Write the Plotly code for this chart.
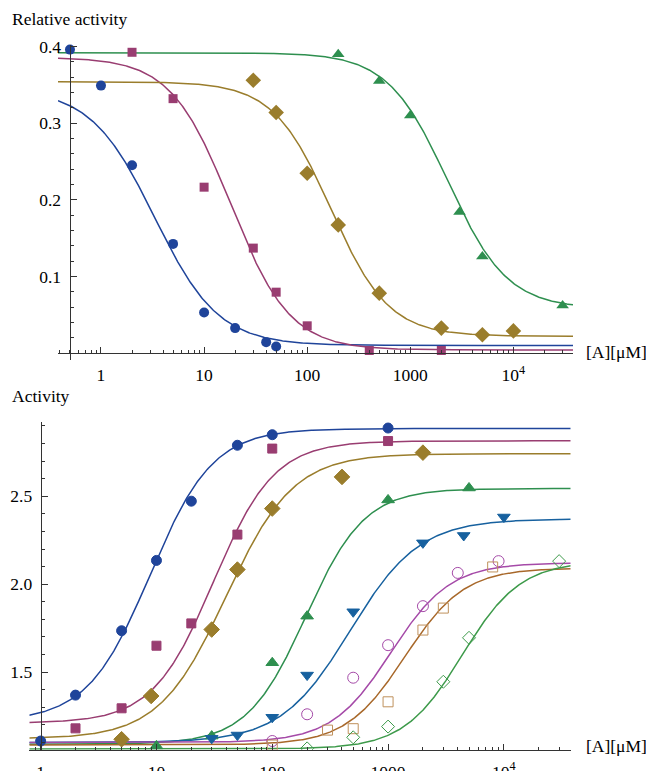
import numpy as np
import plotly.graph_objects as go

W, H = 646, 771

# ---------------- TOP PANEL: Relative activity vs [A] (uM) ----------------
top_blue_x = [0.5, 1, 2, 5, 10, 20, 40, 50]
top_blue_y = [0.396, 0.349, 0.245, 0.1425, 0.053, 0.0326, 0.0143, 0.0087]
top_magenta_x = [2, 5, 10, 30, 50, 100, 400, 2000]
top_magenta_y = [0.3925, 0.332, 0.2165, 0.137, 0.0795, 0.0356, 0.0034, 0.0034]
top_gold_x = [30, 50, 100, 200, 500, 2000, 5000, 10000]
top_gold_y = [0.356, 0.314, 0.2347, 0.1673, 0.0782, 0.0326, 0.0239, 0.029]
top_green_x = [200, 500, 1000, 3000, 5000, 30000]
top_green_y = [0.39, 0.355, 0.31, 0.184, 0.126, 0.062]

# fitted dose-response curve parameters (top, bottom, IC50, Hill)
top_fit_top = [0.345, 0.386, 0.354, 0.392]
top_fit_bottom = [0.010, 0.004, 0.022, 0.058]
top_fit_ic50 = [3.3, 18, 170, 2300]
top_fit_hill = [1.4, 1.5, 1.55, 1.5]

# ---------------- BOTTOM PANEL: Activity vs [A] (uM) ----------------
bot_blue_x = [1, 2, 5, 10, 20, 50, 100, 1000]
bot_blue_y = [1.108, 1.369, 1.735, 2.135, 2.472, 2.79, 2.85, 2.888]
bot_magenta_x = [2, 5, 10, 20, 50, 100, 1000]
bot_magenta_y = [1.18, 1.294, 1.65, 1.777, 2.282, 2.771, 2.814]
bot_gold_x = [5, 9, 30, 50, 100, 400, 2000]
bot_gold_y = [1.118, 1.364, 1.742, 2.083, 2.43, 2.61, 2.748]
bot_green_x = [10, 30, 100, 200, 1000, 5000]
bot_green_y = [1.08, 1.136, 1.553, 1.818, 2.479, 2.547]
bot_steel_x = [30, 50, 100, 200, 500, 2000, 4500, 10000]
bot_steel_y = [1.123, 1.142, 1.243, 1.483, 1.843, 2.235, 2.277, 2.382]
bot_purple_x = [100, 200, 500, 1000, 2000, 4000, 9000]
bot_purple_y = [1.108, 1.26, 1.468, 1.653, 1.875, 2.064, 2.131]
bot_brown_x = [100, 300, 500, 1000, 2000, 3000, 8000]
bot_brown_y = [1.085, 1.17, 1.178, 1.331, 1.739, 1.864, 2.098]
bot_lgreen_x = [200, 500, 1000, 3000, 5000, 30000]
bot_lgreen_y = [1.066, 1.129, 1.19, 1.445, 1.695, 2.131]

bot_fit_top = [2.885, 2.815, 2.742, 2.544, 2.371, 2.121, 2.092, 2.13]
bot_fit_bottom = [1.22, 1.21, 1.12, 1.09, 1.10, 1.10, 1.085, 1.062]
bot_fit_ec50 = [8.8, 31, 40, 195, 470, 1056, 1400, 4360]
bot_fit_hill = [1.6, 1.65, 1.5, 1.71, 1.45, 1.7, 1.7, 1.72]

major_ticks = [1, 10, 100, 1000, 10000]
major_text = ["1", "10", "100", "1000", "10<sup>4</sup>"]

# ------------------------------------------------------------------
C_BLUE = "#1f449a"
C_MAG = "#993d71"
C_GOLD = "#9a7d2c"
C_GREEN = "#2e8f4f"
C_STEEL = "#17619f"
C_PURPLE = "#a54aa8"
C_BROWN_L = "#a8682a"
C_BROWN_M = "#bf915c"
C_LGREEN = "#3d9a4a"

FONT = "Liberation Serif, Times New Roman, serif"
AXC = "#333333"
FS = 17.5

top_xr = [-0.417, 4.578]
bot_xr = [-0.098, 4.577]

fig = go.Figure()


def logistic(x, top, bottom, mid, hill):
    return bottom + (top - bottom) / (1.0 + (x / mid) ** hill)


# top curves
xs_top = np.logspace(top_xr[0], top_xr[1], 500)
top_line_colors = [C_BLUE, C_MAG, C_GOLD, C_GREEN]
for i, col in enumerate(top_line_colors):
    fig.add_trace(go.Scatter(
        x=xs_top, y=logistic(xs_top, top_fit_top[i], top_fit_bottom[i], top_fit_ic50[i], top_fit_hill[i]),
        mode="lines", line=dict(color=col, width=1.5), xaxis="x", yaxis="y",
        hoverinfo="skip", showlegend=False))

top_pts = [
    (top_blue_x, top_blue_y, C_BLUE, "circle", 10),
    (top_magenta_x, top_magenta_y, C_MAG, "square", 9),
    (top_gold_x, top_gold_y, C_GOLD, "diamond", 12),
    (top_green_x, top_green_y, C_GREEN, "triangle-up", 11),
]
for xv, yv, col, sym, sz in top_pts:
    fig.add_trace(go.Scatter(
        x=xv, y=yv, mode="markers", xaxis="x", yaxis="y", cliponaxis=False,
        marker=dict(symbol=sym, size=sz, color=col, line=dict(width=0)),
        showlegend=False))

# bottom curves (increasing)
xs_bot = np.logspace(bot_xr[0], bot_xr[1], 500)
bot_line_colors = [C_BLUE, C_MAG, C_GOLD, C_GREEN, C_STEEL, C_PURPLE, C_BROWN_L, C_LGREEN]
for i, col in enumerate(bot_line_colors):
    fig.add_trace(go.Scatter(
        x=xs_bot, y=logistic(xs_bot, bot_fit_top[i], bot_fit_bottom[i], bot_fit_ec50[i], -bot_fit_hill[i]),
        mode="lines", line=dict(color=col, width=1.5), xaxis="x2", yaxis="y2",
        hoverinfo="skip", showlegend=False))

bot_pts = [
    (bot_blue_x, bot_blue_y, C_BLUE, "circle", 10),
    (bot_magenta_x, bot_magenta_y, C_MAG, "square", 9),
    (bot_gold_x, bot_gold_y, C_GOLD, "diamond", 12),
    (bot_green_x, bot_green_y, C_GREEN, "triangle-up", 11),
    (bot_steel_x, bot_steel_y, C_STEEL, "triangle-down", 11),
    (bot_purple_x, bot_purple_y, C_PURPLE, "circle-open", 11),
    (bot_brown_x, bot_brown_y, C_BROWN_M, "square-open", 10),
    (bot_lgreen_x, bot_lgreen_y, C_LGREEN, "diamond-open", 10),
]
for xv, yv, col, sym, sz in bot_pts:
    fig.add_trace(go.Scatter(
        x=xv, y=yv, mode="markers", xaxis="x2", yaxis="y2",
        marker=dict(symbol=sym, size=sz, color=col, line=dict(width=1, color=col)),
        showlegend=False))


def minor_vals(lo, hi):
    out = []
    for e in range(-1, 5):
        for m in range(2, 10):
            v = m * 10 ** e
            if 10 ** lo <= v <= 10 ** hi:
                out.append(v)
    return out


tickfont = dict(family=FONT, size=FS, color="black")
common_x = dict(type="log", showline=True, linecolor=AXC, linewidth=1, ticks="inside",
                ticklen=6, tickcolor=AXC, tickwidth=1, showgrid=False, zeroline=False,
                tickvals=major_ticks, ticktext=major_text, tickfont=tickfont,
                ticklabelstandoff=6, automargin=False)
common_y = dict(showline=True, linecolor=AXC, linewidth=1, ticks="inside", ticklen=6,
                tickcolor=AXC, tickwidth=1, showgrid=False, zeroline=False,
                tickfont=tickfont, ticklabelstandoff=5, automargin=False)

top_y0, top_y1 = -0.009, 0.402
bot_y0, bot_y1 = 1.058, 2.924

fig.update_layout(
    width=W, height=H,
    margin=dict(l=0, r=0, t=0, b=0, pad=0),
    paper_bgcolor="white", plot_bgcolor="white",
    showlegend=False,
    xaxis=dict(common_x, domain=[58 / W, 573 / W], range=top_xr, anchor="free",
               position=1 - 353.3 / H,
               minor=dict(tickvals=minor_vals(top_xr[0], top_xr[1]), ticks="inside",
                          ticklen=3, tickcolor=AXC)),
    yaxis=dict(common_y, domain=[1 - 360 / H, 1 - 45 / H], range=[top_y0, top_y1],
               anchor="free", position=69.6 / W,
               tickvals=[0.1, 0.2, 0.3, 0.4], ticktext=["0.1", "0.2", "0.3", "0.4"],
               minor=dict(tickvals=[0.02, 0.04, 0.06, 0.08, 0.12, 0.14, 0.16, 0.18,
                                    0.22, 0.24, 0.26, 0.28, 0.32, 0.34, 0.36, 0.38],
                          ticks="inside", ticklen=3, tickcolor=AXC)),
    xaxis2=dict(common_x, domain=[29.3 / W, 570.7 / W], range=bot_xr, anchor="y2",
                minor=dict(tickvals=minor_vals(bot_xr[0], bot_xr[1]), ticks="inside",
                           ticklen=3, tickcolor=AXC)),
    yaxis2=dict(common_y, domain=[1 - 749.8 / H, 1 - 421.7 / H], range=[bot_y0, bot_y1],
                anchor="free", position=40.7 / W,
                tickvals=[1.5, 2.0, 2.5], ticktext=["1.5", "2.0", "2.5"],
                minor=dict(tickvals=[1.1, 1.2, 1.3, 1.4, 1.6, 1.7, 1.8, 1.9,
                                     2.1, 2.2, 2.3, 2.4, 2.6, 2.7, 2.8, 2.9],
                           ticks="inside", ticklen=3, tickcolor=AXC)),
    annotations=[
        dict(text="Relative activity", x=10 / W, y=1 - 19 / H, xref="paper", yref="paper",
             xanchor="left", yanchor="middle", showarrow=False, font=dict(family=FONT, size=FS, color="black")),
        dict(text="[A][μM]", x=584 / W, y=1 - 352 / H, xref="paper", yref="paper",
             xanchor="left", yanchor="middle", showarrow=False, font=dict(family=FONT, size=FS, color="black")),
        dict(text="Activity", x=10 / W, y=1 - 396 / H, xref="paper", yref="paper",
             xanchor="left", yanchor="middle", showarrow=False, font=dict(family=FONT, size=FS, color="black")),
        dict(text="[A][μM]", x=584 / W, y=1 - 746 / H, xref="paper", yref="paper",
             xanchor="left", yanchor="middle", showarrow=False, font=dict(family=FONT, size=FS, color="black")),
    ],
)

fig.write_html("out.html", config={"displayModeBar": False},
               post_script="document.body.style.margin='0';document.body.style.overflow='hidden';")
